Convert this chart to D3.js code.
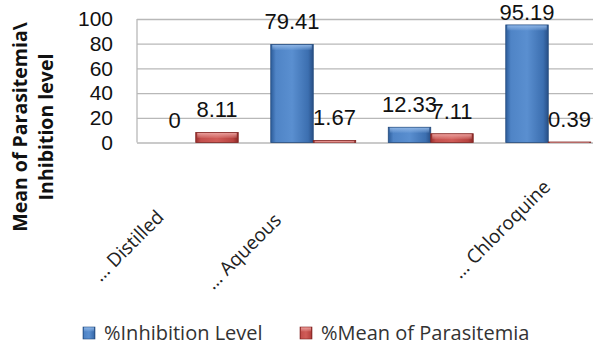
<!DOCTYPE html>
<html>
<head>
<meta charset="utf-8">
<script src="https://cdn.jsdelivr.net/npm/d3@7"></script>
<style>
  html, body { margin: 0; padding: 0; background: #fff; }
  svg { display: block; }
</style>
</head>
<body>
<svg id="chart" width="593" height="345"></svg>
<script>
// Chart data
const categoryLabels = ["\u2026 Distilled", "\u2026 Aqueous", "", "\u2026 Chloroquine"];
const seriesNames = ["%Inhibition Level", "%Mean of Parasitemia"];
const inhibitionLevel = [0, 79.41, 12.33, 95.19];
const meanParasitemia = [8.11, 1.67, 7.11, 0.39];
const yTicks = [0, 20, 40, 60, 80, 100];

const W = 593, H = 345;
const svg = d3.select("#chart");
const plot = { left: 137, right: 607, top: 19, bottom: 142.5 };

const cats = d3.range(categoryLabels.length);
const x = d3.scaleBand().domain(cats).range([plot.left, plot.right])
  .paddingInner(0.277).paddingOuter(0.1385);
const xs = d3.scaleBand().domain([0, 1]).range([0, x.bandwidth()]);
const y = d3.scaleLinear().domain([0, 100]).range([plot.bottom, plot.top]);

const seriesValues = [inhibitionLevel, meanParasitemia];
const rows = [];
cats.forEach(i => seriesValues.forEach((vals, s) => rows.push({ i, s, v: vals[i] })));

// Gradients for the bevelled bar look
const defs = svg.append("defs");
const palettes = [
  { id: "g0", stops: ["#2c5c9a", "#4f84c6", "#5a8fd0", "#3c6fb0", "#284f86"], top: "#8fb6e6", edge: "#234a7c" },
  { id: "g1", stops: ["#9a2e2c", "#c4504d", "#d05c58", "#b74340", "#8a2826"], top: "#eba19e", edge: "#7e2321" }
];
palettes.forEach(p => {
  const g = defs.append("linearGradient").attr("id", p.id).attr("x1", 0).attr("x2", 1).attr("y1", 0).attr("y2", 0);
  [0, 0.12, 0.5, 0.88, 1].forEach((o, k) => g.append("stop").attr("offset", o).attr("stop-color", p.stops[k]));
  const t = defs.append("linearGradient").attr("id", p.id + "t").attr("x1", 0).attr("x2", 0).attr("y1", 0).attr("y2", 1);
  t.append("stop").attr("offset", 0).attr("stop-color", p.top).attr("stop-opacity", 0.95);
  t.append("stop").attr("offset", 1).attr("stop-color", p.top).attr("stop-opacity", 0.15);
});

// Gridlines
const yAxis = d3.axisLeft(y).tickValues(yTicks).tickSize(-(plot.right - plot.left)).tickPadding(24).tickFormat(d3.format("d"));
const gy = svg.append("g").attr("transform", `translate(${plot.left},0)`).call(yAxis);
gy.select(".domain").remove();
gy.selectAll(".tick line").attr("stroke", "#b8b8b8").attr("stroke-width", 1.3);
gy.selectAll(".tick text").attr("font-family", "Liberation Sans, Arial, sans-serif")
  .attr("font-size", 21).attr("fill", "#111").attr("x", -24);

// Left edge of plot area
svg.append("line").attr("x1", plot.left).attr("x2", plot.left).attr("y1", y(100)).attr("y2", y(0))
  .attr("stroke", "#b8b8b8").attr("stroke-width", 1.3);

// Bars
const bars = svg.append("g");
rows.forEach(d => {
  const bx = x(d.i) + xs(d.s), bw = xs.bandwidth();
  const top = y(d.v), h = y(0) - y(d.v);
  if (h <= 0) return;
  const p = palettes[d.s];
  bars.append("rect").attr("x", bx).attr("y", top).attr("width", bw).attr("height", h)
    .attr("fill", `url(#${p.id})`).attr("stroke", p.edge).attr("stroke-width", 0.8);
  const th = Math.min(5, h);
  bars.append("rect").attr("x", bx + 1.5).attr("y", top + 0.5).attr("width", bw - 3).attr("height", th)
    .attr("fill", `url(#${p.id}t)`);
});

// Value labels
const labels = svg.append("g").attr("font-family", "Liberation Sans, Arial, sans-serif")
  .attr("font-size", 22).attr("fill", "#111").attr("text-anchor", "middle");
rows.forEach(d => {
  const cx = x(d.i) + xs(d.s) + xs.bandwidth() / 2;
  const by = Math.max(y(d.v) - 15, 19.5);
  labels.append("text").attr("x", cx).attr("y", by).text(String(d.v));
});

// Category labels (rotated)
const labelShift = [[-95, 140], [-100, 148], [0, 140], [-88, 137]];
const xl = svg.append("g").attr("font-family", "Open Sans, sans-serif").attr("font-size", 19).attr("fill", "#222");
cats.forEach(i => {
  if (!categoryLabels[i]) return;
  const cx = x(i) + x.bandwidth() / 2 + labelShift[i][0];
  const cy = y(0) + labelShift[i][1];
  xl.append("text").attr("transform", `translate(${cx},${cy}) rotate(-45)`)
    .attr("text-anchor", "start").text(categoryLabels[i]);
});

// Y axis title
const yt = svg.append("text").attr("font-family", "Open Sans, sans-serif").attr("font-weight", 700)
  .attr("font-size", 19.5).attr("fill", "#111").attr("text-anchor", "middle")
  .attr("transform", "translate(27,127) rotate(-90)");
yt.append("tspan").attr("x", 0).attr("y", 0).text("Mean of Parasitemia\\");
yt.append("tspan").attr("x", 0).attr("y", 26).text("Inhibition level");

// Legend
const legend = svg.append("g").attr("font-family", "Open Sans, sans-serif").attr("font-size", 20).attr("fill", "#333");
const legendX = [83, 300];
seriesNames.forEach((name, s) => {
  const p = palettes[s];
  legend.append("rect").attr("x", legendX[s]).attr("y", 327).attr("width", 12).attr("height", 12)
    .attr("fill", `url(#${p.id})`).attr("stroke", p.edge).attr("stroke-width", 0.6);
  legend.append("rect").attr("x", legendX[s] + 1).attr("y", 327.5).attr("width", 10).attr("height", 4)
    .attr("fill", `url(#${p.id}t)`);
  legend.append("text").attr("x", legendX[s] + 21).attr("y", 340).text(name);
});
</script>
</body>
</html>
